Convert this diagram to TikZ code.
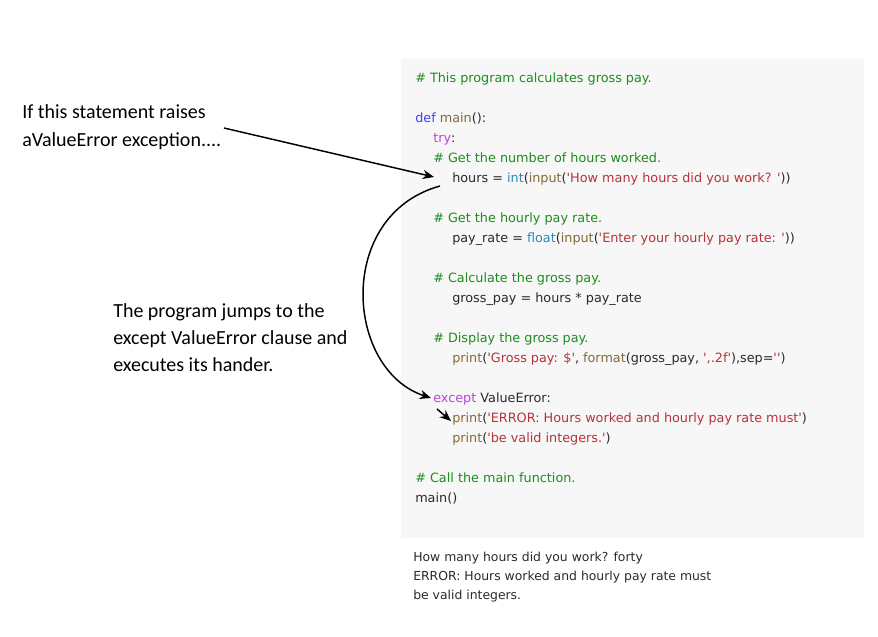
\documentclass[tikz,border=0pt]{standalone}
\usepackage{fontspec}
\setmainfont{DejaVu Sans}[Ligatures=TeXOff]
\newfontfamily\labelfont{Carlito}
\usetikzlibrary{arrows.meta}
\newcommand\sq{\char"0027\relax}
\definecolor{bgbox}{HTML}{F7F7F7}
\definecolor{cmt}{HTML}{1E8C1E}
\definecolor{kwdef}{HTML}{3F3FFF}
\definecolor{kwctl}{HTML}{C040E0}
\definecolor{fn}{HTML}{84693A}
\definecolor{bi}{HTML}{2E8AB8}
\definecolor{str}{HTML}{B7333B}
\definecolor{txt}{HTML}{2A2A2A}
\tikzset{
  codeline/.style={anchor=base west, inner sep=0pt, text=txt, font=\fontsize{9.6pt}{12pt}\selectfont},
  outline/.style={anchor=base west, inner sep=0pt, text=txt, font=\fontsize{9.3pt}{12pt}\selectfont},
  label/.style={anchor=base west, inner sep=0pt, text=black, align=left, font=\labelfont\fontsize{15pt}{18pt}\selectfont},
  pointer/.style={-{Stealth[length=8.5pt,width=7pt]}, line width=1.1pt},
}
\begin{document}
\begin{tikzpicture}[x=0.75pt,y=-0.75pt]
\useasboundingbox (0,0) rectangle (878,636);
\fill[bgbox] (401,59) rectangle (864,538);
% code
\node[codeline] (c1) at (415,82) {\textcolor{cmt}{\# This program calculates gross pay.}};
\node[codeline] (c2) at (415,122) {\textcolor{kwdef}{def} \textcolor{fn}{main}():};
\node[codeline] (c3) at (433,142) {\textcolor{kwctl}{try}:};
\node[codeline] (c4) at (433,162) {\textcolor{cmt}{\# Get the number of hours worked.}};
\node[codeline] (c5) at (452,182) {hours = \textcolor{bi}{int}(\textcolor{fn}{input}(\textcolor{str}{\sq How many hours did you work? \sq}))};
\node[codeline] (c6) at (433,222) {\textcolor{cmt}{\# Get the hourly pay rate.}};
\node[codeline] (c7) at (452,242) {pay\_rate = \textcolor{bi}{float}(\textcolor{fn}{input}(\textcolor{str}{\sq Enter your hourly pay rate: \sq}))};
\node[codeline] (c8) at (433,282) {\textcolor{cmt}{\# Calculate the gross pay.}};
\node[codeline] (c9) at (452,302) {gross\_pay = hours * pay\_rate};
\node[codeline] (c10) at (433,342) {\textcolor{cmt}{\# Display the gross pay.}};
\node[codeline] (c11) at (452,362) {\textcolor{fn}{print}(\textcolor{str}{\sq Gross pay: \$\sq}, \textcolor{fn}{format}(gross\_pay, \textcolor{str}{\sq,.2f\sq}),sep=\textcolor{str}{\sq\sq})};
\node[codeline] (c12) at (433,402) {\textcolor{kwctl}{except} ValueError:};
\node[codeline] (c13) at (452,422) {\textcolor{fn}{print}(\textcolor{str}{\sq ERROR: Hours worked and hourly pay rate must\sq})};
\node[codeline] (c14) at (452,442) {\textcolor{fn}{print}(\textcolor{str}{\sq be valid integers.\sq})};
\node[codeline] (c15) at (415,482) {\textcolor{cmt}{\# Call the main function.}};
\node[codeline] (c16) at (415,502) {main()};
% output
\node[outline] (o1) at (413,561) {How many hours did you work? forty};
\node[outline] (o2) at (413,580) {ERROR: Hours worked and hourly pay rate must};
\node[outline] (o3) at (413,599) {be valid integers.};
% labels
\node[label] (l1) at (22,118) {If this statement raises};
\node[label] (l2) at (22,146) {aValueError exception....};
\node[label] (m1) at (113,317) {The program jumps to the};
\node[label] (m2) at (113,344) {except ValueError clause and};
\node[label] (m3) at (113,371) {executes its hander.};
% arrows
\coordinate (a1s) at (224,128);
\coordinate (a1e) at (434,177);
\draw[pointer] (a1s) -- (a1e);
\coordinate (a2s) at (440,186);
\coordinate (a2e) at (431,398);
\draw[pointer] (a2s) .. controls (335,215) and (345,370) .. (a2e);
\coordinate (a3s) at (437,409);
\coordinate (a3e) at (451,421);
\draw[pointer] (a3s) -- (a3e);
\end{tikzpicture}
\end{document}
